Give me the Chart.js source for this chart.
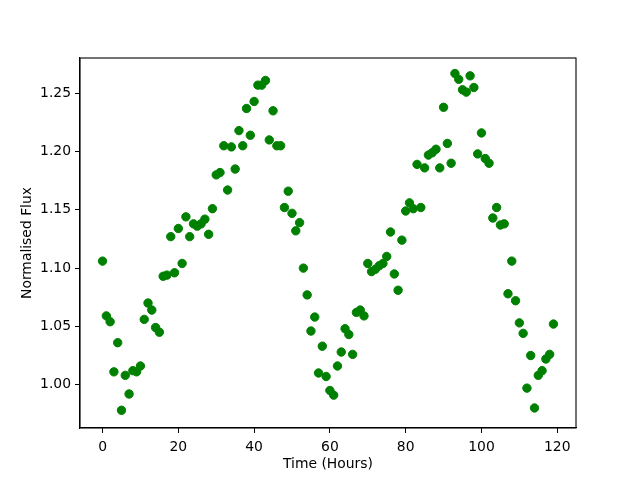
<!DOCTYPE html>
<html>
<head>
<meta charset="utf-8">
<script src="https://cdn.jsdelivr.net/npm/chart.js@4/dist/chart.umd.min.js"></script>
<style>
  html, body { margin: 0; padding: 0; background: #fff; }
  canvas { display: block; }
</style>
</head>
<body>
<canvas id="fluxChart" width="640" height="480"></canvas>
<script>
// time in hours
const hours = [
  0, 1, 2, 3, 4, 5, 6, 7, 8, 9, 10, 11, 12, 13, 14, 15, 16, 17, 18, 19,
  20, 21, 22, 23, 24, 25, 26, 27, 28, 29, 30, 31, 32, 33, 34, 35, 36, 37, 38, 39,
  40, 41, 42, 43, 44, 45, 46, 47, 48, 49, 50, 51, 52, 53, 54, 55, 56, 57, 58, 59,
  60, 61, 62, 63, 64, 65, 66, 67, 68, 69, 70, 71, 72, 73, 74, 75, 76, 77, 78, 79,
  80, 81, 82, 83, 84, 85, 86, 87, 88, 89, 90, 91, 92, 93, 94, 95, 96, 97, 98, 99,
  100, 101, 102, 103, 104, 105, 106, 107, 108, 109, 110, 111, 112, 113, 114, 115, 116, 117, 118, 119
];

// normalised flux
const flux = [
  1.106, 1.059, 1.054, 1.011, 1.036, 0.978, 1.008, 0.992, 1.012, 1.011,
  1.016, 1.056, 1.070, 1.064, 1.049, 1.045, 1.093, 1.094, 1.127, 1.096,
  1.134, 1.104, 1.144, 1.127, 1.138, 1.136, 1.138, 1.142, 1.129, 1.151,
  1.180, 1.182, 1.205, 1.167, 1.204, 1.185, 1.218, 1.205, 1.237, 1.214,
  1.243, 1.257, 1.257, 1.261, 1.210, 1.235, 1.205, 1.205, 1.152, 1.166,
  1.147, 1.132, 1.139, 1.100, 1.077, 1.046, 1.058, 1.010, 1.033, 1.007,
  0.995, 0.991, 1.016, 1.028, 1.048, 1.043, 1.026, 1.062, 1.064, 1.059,
  1.104, 1.097, 1.099, 1.102, 1.104, 1.110, 1.131, 1.095, 1.081, 1.124,
  1.149, 1.156, 1.151, 1.189, 1.152, 1.186, 1.197, 1.199, 1.202, 1.186,
  1.238, 1.207, 1.190, 1.267, 1.262, 1.253, 1.251, 1.265, 1.255, 1.198,
  1.216, 1.194, 1.190, 1.143, 1.152, 1.137, 1.138, 1.078, 1.106, 1.072,
  1.053, 1.044, 0.997, 1.025, 0.980, 1.008, 1.012, 1.022, 1.026, 1.052
];

const xTicks = [0, 20, 40, 60, 80, 100, 120];
const yTicks = [1.00, 1.05, 1.10, 1.15, 1.20, 1.25];

const points = hours.map((h, i) => ({ x: h, y: flux[i] }));

const font = { family: 'DejaVu Sans', size: 13.9 };

// matplotlib style box around the axes
const frame = {
  id: 'frame',
  afterDraw(chart) {
    const { ctx, chartArea: a } = chart;
    ctx.save();
    ctx.strokeStyle = '#000';
    ctx.lineWidth = 1.1;
    ctx.strokeRect(a.left, a.top, a.right - a.left, a.bottom - a.top);
    ctx.restore();
  }
};

new Chart(document.getElementById('fluxChart').getContext('2d'), {
  type: 'scatter',
  data: {
    datasets: [{
      label: 'Flux',
      data: points,
      backgroundColor: '#008000',
      borderColor: '#008000',
      borderWidth: 1,
      pointRadius: 4.2,
      pointHoverRadius: 4.2
    }]
  },
  options: {
    responsive: false,
    animation: false,
    layout: { padding: { top: 58, right: 64, left: 0, bottom: 0 } },
    plugins: {
      legend: { display: false },
      tooltip: { enabled: false }
    },
    scales: {
      x: {
        type: 'linear',
        min: -5.95,
        max: 124.95,
        afterBuildTicks: (scale) => { scale.ticks = xTicks.map(v => ({ value: v })); },
        afterFit: (scale) => { scale.height = 52; },
        grid: { drawOnChartArea: false, tickLength: 5, color: '#000', tickWidth: 1 },
        border: { color: '#000', width: 1.1 },
        ticks: { color: '#000', font: font, padding: 6, maxRotation: 0 },
        title: { display: true, text: 'Time (Hours)', color: '#000', font: font, padding: { top: 2, bottom: 7 } }
      },
      y: {
        type: 'linear',
        min: 0.9628,
        max: 1.2803,
        afterBuildTicks: (scale) => { scale.ticks = yTicks.map(v => ({ value: v })); },
        afterFit: (scale) => { scale.width = 80; },
        grid: { drawOnChartArea: false, tickLength: 5, color: '#000', tickWidth: 1 },
        border: { color: '#000', width: 1.1 },
        ticks: {
          color: '#000',
          font: font,
          padding: 4,
          callback: (v) => Number(v).toFixed(2)
        },
        title: { display: true, text: 'Normalised Flux', color: '#000', font: font, padding: { top: 19, bottom: 0 } }
      }
    }
  },
  plugins: [frame]
});
</script>
</body>
</html>
